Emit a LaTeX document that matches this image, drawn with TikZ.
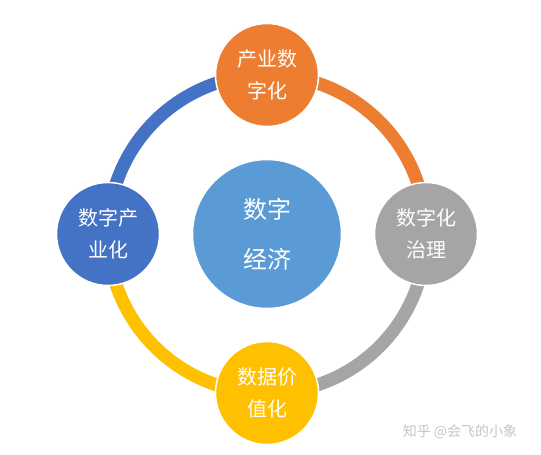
\documentclass[tikz,border=0pt]{standalone}
\usepackage{fontspec}
\newfontfamily\cjk{Noto Sans CJK SC}
\usetikzlibrary{positioning,backgrounds}
\definecolor{ringblue}{HTML}{4472C4}
\definecolor{ringorange}{HTML}{ED7D31}
\definecolor{ringgray}{HTML}{A5A5A5}
\definecolor{ringyellow}{HTML}{FFC000}
\definecolor{corefill}{HTML}{5B9BD5}

\begin{document}
\begin{tikzpicture}[x=1pt, y=-1pt, node distance=159pt, thick,
   main node/.style={circle,draw=white,line width=1.5pt,minimum size=103pt,inner sep=0pt,
                     text=white,align=center,font=\cjk\fontsize{20}{32}\selectfont},
   core node/.style={circle,draw=white,line width=1.5pt,minimum size=149pt,inner sep=0pt,
                     fill=corefill,text=white,align=center,font=\cjk\fontsize{24}{50}\selectfont}]

   \useasboundingbox (0,0) rectangle (541,455);

   \node[core node] (0) at (267,234) {数字\\经济};
   \node[main node, fill=ringorange] (1) [above of=0] {产业数\\字化};
   \node[main node, fill=ringgray]   (2) [right of=0] {数字化\\治理};
   \node[main node, fill=ringyellow] (3) [below of=0] {数据价\\值化};
   \node[main node, fill=ringblue]   (4) [left of=0]  {数字产\\业化};

   % watermark
   \node[text=gray!45, font=\cjk\fontsize{14}{14}\selectfont] (wm) at (460,432) {知乎 @会飞的小象};

  \begin{scope}[on background layer]
  \fill[white] (0,0) rectangle (541,455);
  \path[every edge/.style={draw, line width=13pt}]
    (4.center) edge[draw=ringblue, out=90, in=180] (1.center)
    (1.center) edge[draw=ringorange, out=0, in=90] (2.center)
    (2.center) edge[draw=ringgray, out=-90, in=0] (3.center)
    (3.center) edge[draw=ringyellow, out=180, in=-90] (4.center)
       ;
  \end{scope}

\end{tikzpicture}
\end{document}
